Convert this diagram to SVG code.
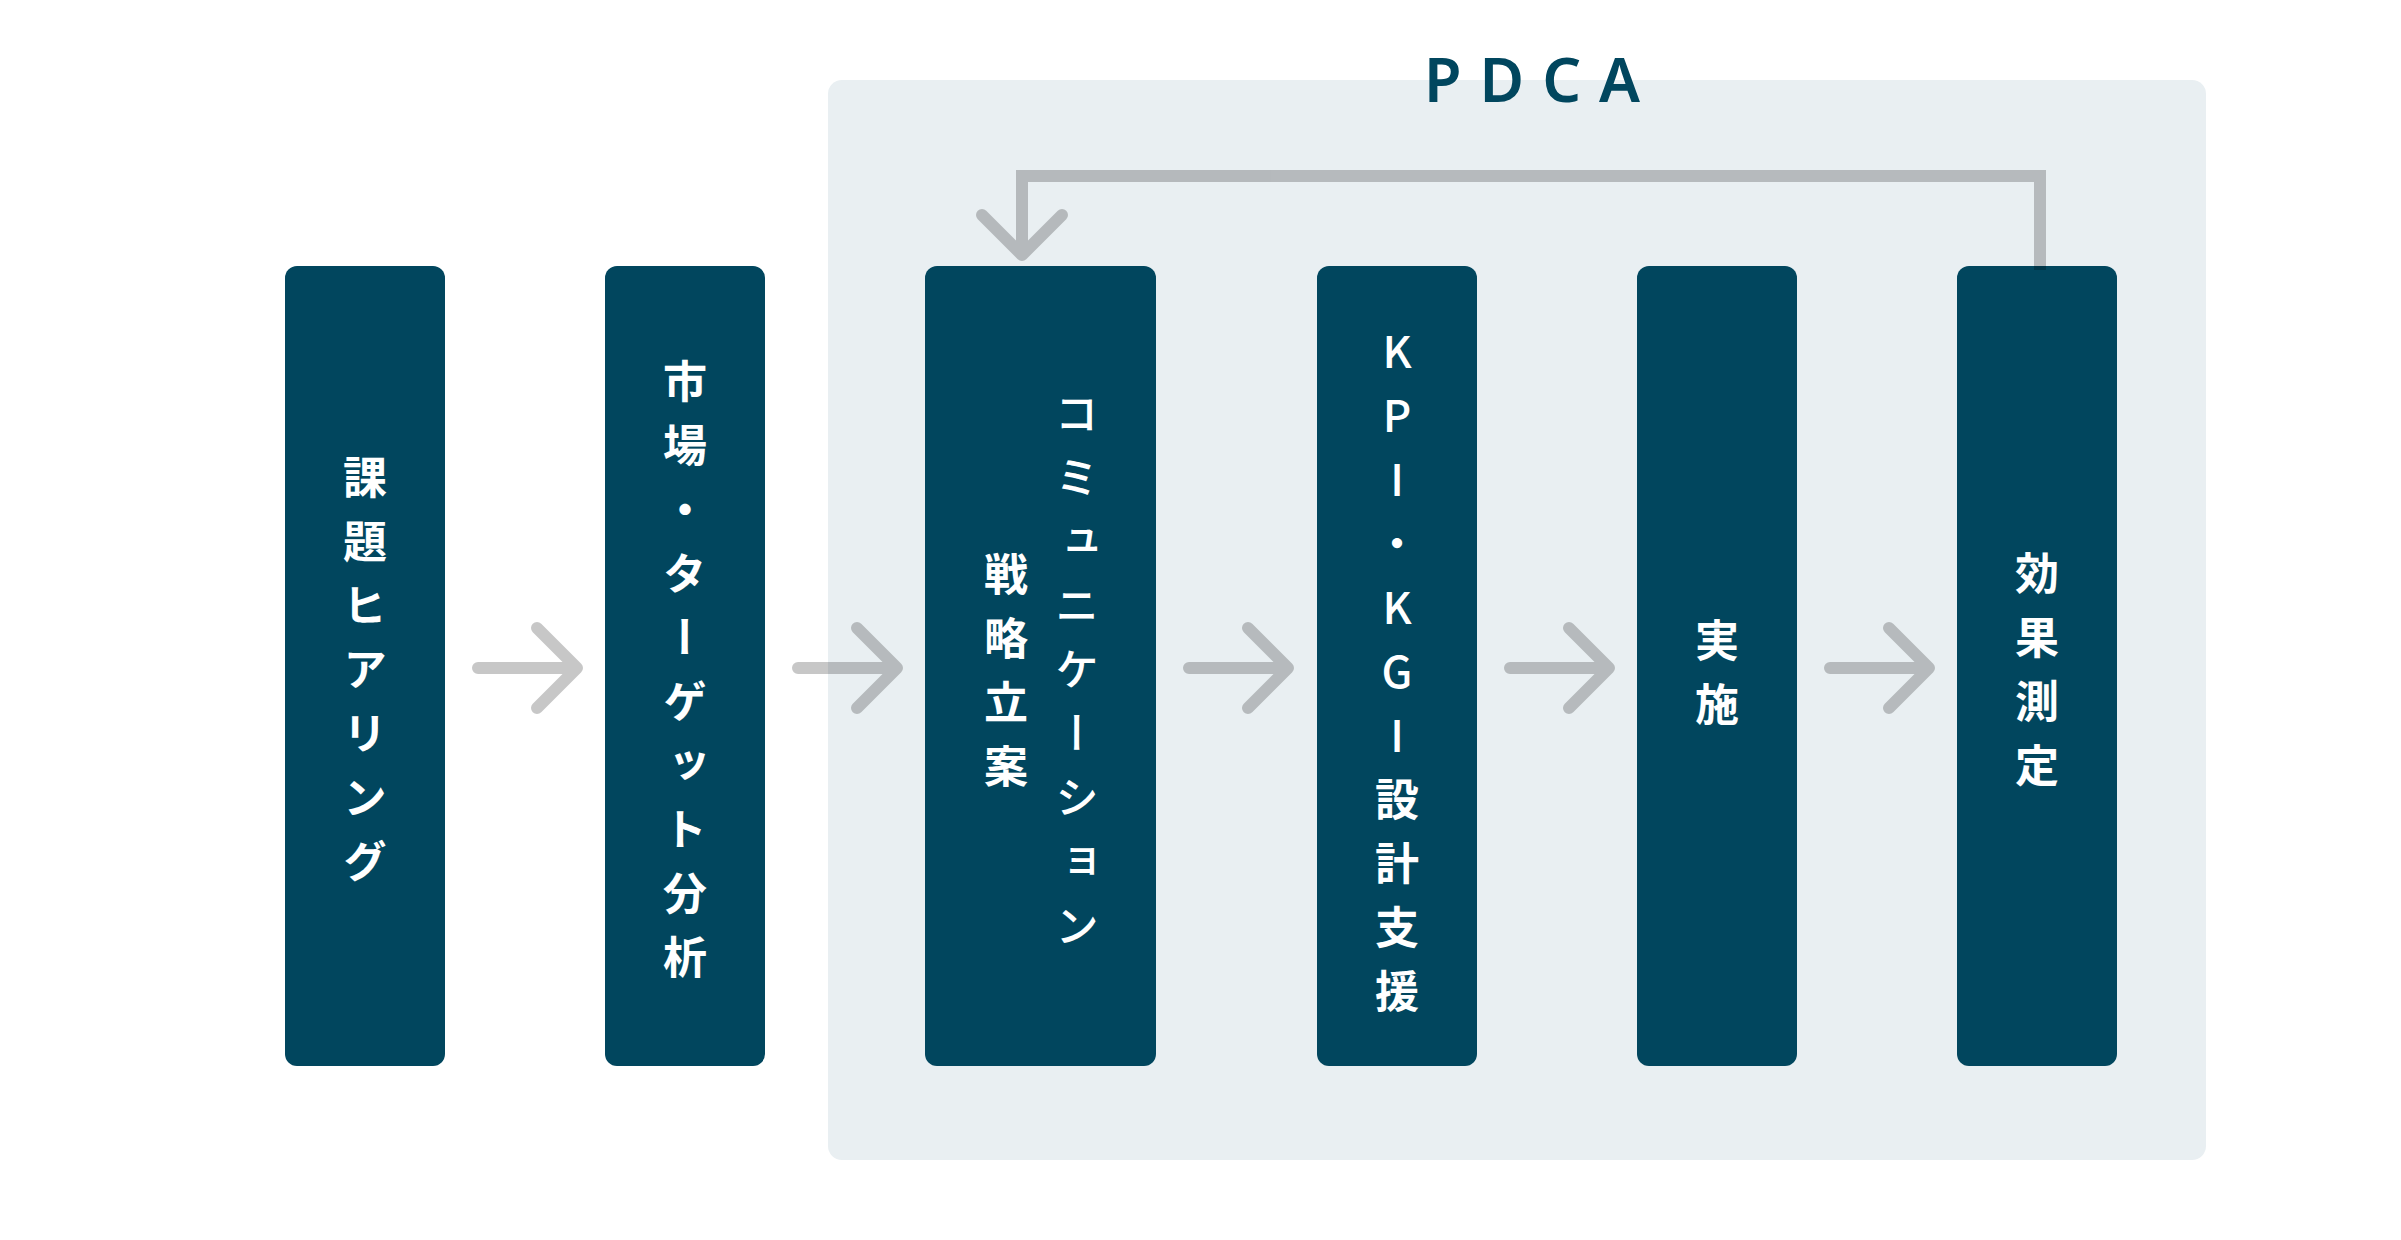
<svg xmlns="http://www.w3.org/2000/svg" width="2401" height="1240" viewBox="0 0 2401 1240">
  <style>
    .box { fill: #01465E; }
    .v { writing-mode: vertical-rl; text-orientation: upright; letter-spacing: 20px; font-family: "Noto Sans CJK JP", "Noto Sans", sans-serif; font-size: 44px; font-weight: 700; fill: #FFFFFF; }
    .lt { font-weight: 500; }
    .arrow { fill: none; stroke: #000000; stroke-width: 12; stroke-linecap: round; stroke-linejoin: round; }
    .loop { fill: none; stroke: #000000; stroke-width: 12; stroke-linejoin: miter; }
    .title { font-family: "Noto Sans", "Liberation Sans", sans-serif; font-size: 61px; font-weight: 600; fill: #01465E; letter-spacing: 18px; }
  </style>
  <rect width="2401" height="1240" fill="#FFFFFF"/>
  <g id="pdca-panel">
    <rect x="828" y="80" width="1378" height="1080" rx="14" fill="#E9EFF2"/>
    <text class="title" x="1424" y="102">PDCA</text>
  </g>
  <g id="node-1">
    <rect class="box" x="285" y="266" width="160" height="800" rx="12"/>
    <text class="v" x="365" y="679" text-anchor="middle">課題ヒアリング</text>
  </g>
  <g id="node-2">
    <rect class="box" x="605" y="266" width="160" height="800" rx="12"/>
    <text class="v" x="685" y="679" text-anchor="middle">市場・ターゲット分析</text>
  </g>
  <g id="node-3">
    <rect class="box" x="925" y="266" width="231" height="800" rx="12"/>
    <text class="v" text-anchor="middle"><tspan class="lt" x="1077" y="679">コミュニケーション</tspan><tspan x="1006" y="680">戦略立案</tspan></text>
  </g>
  <g id="node-4">
    <rect class="box" x="1317" y="266" width="160" height="800" rx="12"/>
    <text class="v" x="1397" y="681" text-anchor="middle"><tspan class="lt">KPI・KGI</tspan>設計支援</text>
  </g>
  <g id="node-5">
    <rect class="box" x="1637" y="266" width="160" height="800" rx="12"/>
    <text class="v" x="1717" y="682" text-anchor="middle">実施</text>
  </g>
  <g id="node-6">
    <rect class="box" x="1957" y="266" width="160" height="800" rx="12"/>
    <text class="v" x="2037" y="679" text-anchor="middle">効果測定</text>
  </g>
  <g id="connectors">
    <g opacity="0.22"><path class="arrow" d="M478 668 H577 M537 628 L577 668 L537 708"/></g>
    <g opacity="0.22"><path class="arrow" d="M798 668 H897 M857 628 L897 668 L857 708"/></g>
    <g opacity="0.22"><path class="arrow" d="M1189 668 H1288 M1248 628 L1288 668 L1248 708"/></g>
    <g opacity="0.22"><path class="arrow" d="M1510 668 H1609 M1569 628 L1609 668 L1569 708"/></g>
    <g opacity="0.22"><path class="arrow" d="M1830 668 H1929 M1889 628 L1929 668 L1889 708"/></g>
    <g opacity="0.22">
      <path class="loop" d="M2040 270 V176 H1022 V252"/>
      <path class="arrow" d="M982 215 L1022 255 L1062 215"/>
    </g>
  </g>
</svg>
